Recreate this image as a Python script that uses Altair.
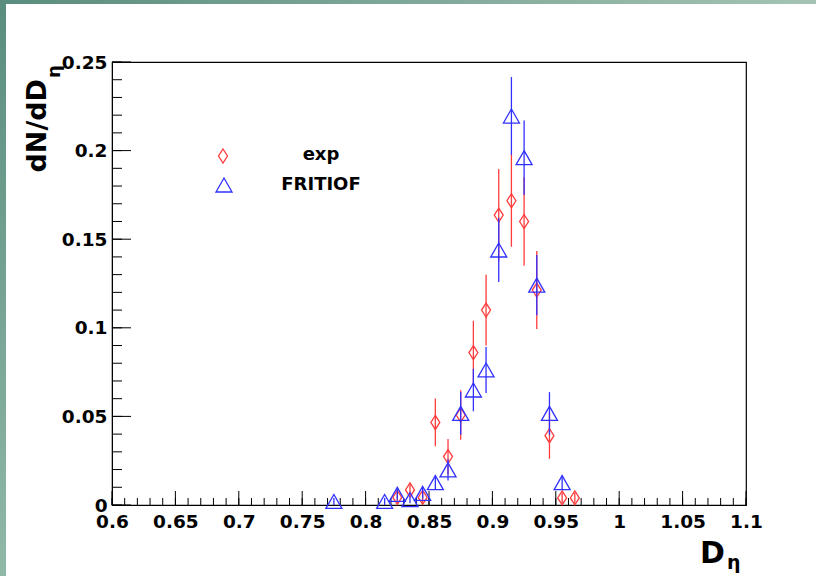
import altair as alt
import pandas as pd

# ---------------- data ----------------
x_exp = [0.825, 0.835, 0.845, 0.855, 0.865, 0.875, 0.885, 0.895, 0.905, 0.915,
         0.925, 0.935, 0.945, 0.955, 0.965]
y_exp = [0.0043, 0.0085, 0.0043, 0.0466, 0.0273, 0.0508, 0.0860, 0.1100, 0.1636,
         0.1717, 0.1600, 0.1213, 0.0391, 0.0040, 0.0040]
e_exp = [0.003, 0.004, 0.003, 0.0135, 0.010, 0.014, 0.018, 0.020, 0.026, 0.026,
         0.025, 0.022, 0.013, 0.003, 0.003]

x_fr = [0.775, 0.815, 0.825, 0.835, 0.845, 0.855, 0.865, 0.875, 0.885, 0.895,
        0.905, 0.915, 0.925, 0.935, 0.945, 0.955]
y_fr = [0.0020, 0.0020, 0.0060, 0.0030, 0.0066, 0.0126, 0.0198, 0.0517, 0.0649,
        0.0762, 0.1439, 0.2195, 0.1960, 0.1241, 0.0517, 0.0126]
e_fr = [0.002, 0.002, 0.003, 0.002, 0.003, 0.004, 0.006, 0.012, 0.012, 0.013,
        0.018, 0.022, 0.021, 0.017, 0.012, 0.004]

x_major = [0.6, 0.65, 0.7, 0.75, 0.8, 0.85, 0.9, 0.95, 1.0, 1.05, 1.1]
y_major = [0.0, 0.05, 0.1, 0.15, 0.2, 0.25]
x_minor = [round(0.6 + 0.01 * i, 2) for i in range(51)]
y_minor = [round(0.01 * i, 2) for i in range(26)]

legend_labels = ["exp", "FRITIOF"]

# ---------------- layout ----------------
W, H = 634, 443
PL, PT = 112, 62
RED = "#ff3b3b"
BLUE = "#3030ff"
FONT = "DejaVu Sans"
DIAMOND = "M0,-1L0.64,0L0,1L-0.64,0Z"
TRIANGLE = "M0,-0.875L1,0.875L-1,0.875Z"

xs = alt.Scale(domain=[0.6, 1.1], nice=False, zero=False)
ys = alt.Scale(domain=[0, 0.25], nice=False, zero=False)

xax = alt.Axis(values=x_major, format="~g", ticks=False, grid=False, title=None,
               domainColor="black", domainWidth=1, labelFont=FONT,
               labelFontWeight="bold", labelFontSize=18.5, labelColor="black",
               labelPadding=7, labelFlush=False, labelOverlap=False)
yax = alt.Axis(values=y_major, format="~g", ticks=False, grid=False, title=None,
               domainColor="black", domainWidth=1, labelFont=FONT,
               labelFontWeight="bold", labelFontSize=18.5, labelColor="black",
               labelPadding=5, labelFlush=False, labelOverlap=False)

exp_df = pd.DataFrame({"x": x_exp, "y": y_exp,
                       "lo": [a - b for a, b in zip(y_exp, e_exp)],
                       "hi": [a + b for a, b in zip(y_exp, e_exp)]})
fr_df = pd.DataFrame({"x": x_fr, "y": y_fr,
                      "lo": [a - b for a, b in zip(y_fr, e_fr)],
                      "hi": [a + b for a, b in zip(y_fr, e_fr)]})

X = alt.X("x:Q", scale=xs, axis=xax)
Y = alt.Y("y:Q", scale=ys, axis=yax)

one = pd.DataFrame({"a": [0]})

# frame gradient bands
left_band = alt.Chart(one).mark_rect(
    fill=alt.Gradient(gradient="linear",
                      stops=[alt.GradientStop(color="#5a8d7f", offset=0),
                             alt.GradientStop(color="#90b8a7", offset=1)],
                      x1=0, x2=0, y1=0, y2=1)
).encode(x=alt.value(-PL), x2=alt.value(-PL + 6), y=alt.value(-PT), y2=alt.value(576 - PT))
top_band = alt.Chart(one).mark_rect(
    fill=alt.Gradient(gradient="linear",
                      stops=[alt.GradientStop(color="#5a8d7f", offset=0),
                             alt.GradientStop(color="#a4c3b3", offset=1)],
                      x1=0, x2=1, y1=0, y2=0)
).encode(x=alt.value(-PL), x2=alt.value(816 - PL), y=alt.value(-PT), y2=alt.value(-PT + 4))

# ticks (inside, ROOT style)
xmaj = alt.Chart(pd.DataFrame({"x": x_major})).mark_rule(color="black", strokeWidth=1).encode(
    x=X, y=alt.value(H), y2=alt.value(H - 14))
xmin = alt.Chart(pd.DataFrame({"x": x_minor})).mark_rule(color="black", strokeWidth=1).encode(
    x=X, y=alt.value(H), y2=alt.value(H - 7))
ymaj = alt.Chart(pd.DataFrame({"y": y_major})).mark_rule(color="black", strokeWidth=1).encode(
    y=Y, x=alt.value(0), x2=alt.value(19))
ymin = alt.Chart(pd.DataFrame({"y": y_minor})).mark_rule(color="black", strokeWidth=1).encode(
    y=Y, x=alt.value(0), x2=alt.value(10))

# data
exp_err = alt.Chart(exp_df).mark_rule(color=RED, strokeWidth=1.3).encode(
    x=X, y=alt.Y("lo:Q", scale=ys, axis=yax), y2="hi:Q")
exp_pts = alt.Chart(exp_df).mark_point(shape=DIAMOND, size=196, filled=False,
                                        color=RED, strokeWidth=1.3, opacity=1).encode(x=X, y=Y)
fr_err = alt.Chart(fr_df).mark_rule(color=BLUE, strokeWidth=1.3).encode(
    x=X, y=alt.Y("lo:Q", scale=ys, axis=yax), y2="hi:Q")
fr_pts = alt.Chart(fr_df).mark_point(shape=TRIANGLE, size=256, filled=False,
                                      color=BLUE, strokeWidth=1.3, opacity=1).encode(x=X, y=Y)

# legend
leg_d = alt.Chart(one).mark_point(shape=DIAMOND, size=196, filled=False, color=RED,
                                  strokeWidth=1.3, opacity=1).encode(
    x=alt.value(223 - PL), y=alt.value(156 - PT))
leg_t = alt.Chart(one).mark_point(shape=TRIANGLE, size=256, filled=False, color=BLUE,
                                  strokeWidth=1.3, opacity=1).encode(
    x=alt.value(224 - PL), y=alt.value(185 - PT))
leg_t1 = alt.Chart(one).mark_text(font=FONT, fontWeight="bold", fontSize=18, color="black",
                                  align="center", baseline="middle").encode(
    x=alt.value(321 - PL), y=alt.value(155 - PT), text=alt.value(legend_labels[0]))
leg_t2 = alt.Chart(one).mark_text(font=FONT, fontWeight="bold", fontSize=18, color="black",
                                  align="center", baseline="middle").encode(
    x=alt.value(321 - PL), y=alt.value(185 - PT), text=alt.value(legend_labels[1]))

# axis titles
ytitle = alt.Chart(one).mark_text(font=FONT, fontWeight="bold", fontSize=27, color="black",
                                  align="right", baseline="middle", angle=270).encode(
    x=alt.value(38 - PL), y=alt.value(79 - PT), text=alt.value("dN/dD"))
ysub = alt.Chart(one).mark_text(font=FONT, fontWeight="bold", fontSize=18, color="black",
                                align="left", baseline="middle", angle=270).encode(
    x=alt.value(55 - PL), y=alt.value(78 - PT), text=alt.value("η"))
xtitle = alt.Chart(one).mark_text(font=FONT, fontWeight="bold", fontSize=30, color="black",
                                  align="left", baseline="alphabetic").encode(
    x=alt.value(700 - PL), y=alt.value(563 - PT), text=alt.value("D"))
xsub = alt.Chart(one).mark_text(font=FONT, fontWeight="bold", fontSize=19, color="black",
                                align="left", baseline="alphabetic").encode(
    x=alt.value(727 - PL), y=alt.value(569 - PT), text=alt.value("η"))

chart = alt.layer(
    left_band, top_band, xmin, xmaj, ymin, ymaj,
    exp_err, exp_pts, fr_err, fr_pts,
    leg_d, leg_t, leg_t1, leg_t2, ytitle, ysub, xtitle, xsub
).properties(
    width=W, height=H,
    padding={"left": PL, "top": PT, "right": 816 - PL - W, "bottom": 576 - PT - H},
    autosize=alt.AutoSizeParams(type="none"),
    background="white",
).configure_view(stroke="black", strokeWidth=1.2)

chart.save("out.html", embed_options={"renderer": "svg", "actions": False})
